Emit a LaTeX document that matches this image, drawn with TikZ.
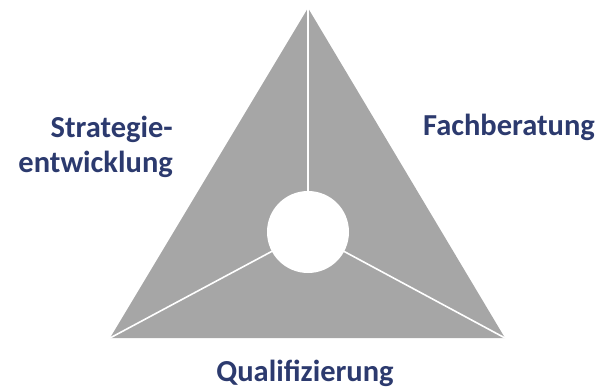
\documentclass[tikz,border=0pt]{standalone}
\usepackage{fontspec}
\setmainfont{Carlito}
\usetikzlibrary{positioning}

\definecolor{areagray}{RGB}{166,166,166}
\definecolor{labelblue}{RGB}{44,58,110}

\tikzset{
    label text/.style={inner sep=0pt, text=labelblue, font=\fontsize{30.5}{35}\selectfont\bfseries},
    divider/.style={draw=white, line width=1.6pt}
}

\begin{document}
\begin{tikzpicture}[x=1pt, y=-1pt]
    \useasboundingbox (0,0) rectangle (603,389);

    % Corners
    \coordinate (top) at (308,8);
    \coordinate (left) at (110,338);
    \coordinate (right) at (505,338);

    % Triangle
    \fill [areagray] (top) -- (right) -- (left) -- cycle;

    % Centre
    \coordinate (mid) at (308,232);
    \draw [divider] (mid) -- (top);
    \draw [divider] (mid) -- (left);
    \draw [divider] (mid) -- (right);
    \node [circle, fill=white, minimum size=82pt, inner sep=0pt] (hub) at (mid) {};

    % Texts
    \node [label text, align=right, anchor=base east] (strategy) at (173,172) {Strategie-\\entwicklung};
    \node [label text, anchor=base] (advice) at (509,135) {Fachberatung};
    \node [label text, anchor=base] (training) at (305,381) {Qualifizierung};

\end{tikzpicture}
\end{document}
